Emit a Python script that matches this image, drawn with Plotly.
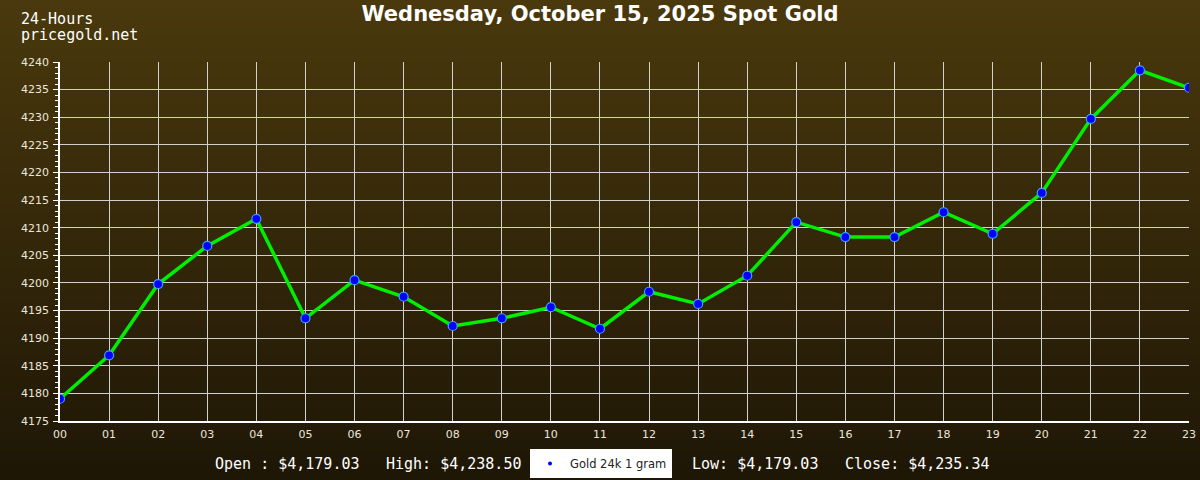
import base64
import struct
import zlib
import plotly.graph_objects as go

hours = ["00","01","02","03","04","05","06","07","08","09","10","11",
         "12","13","14","15","16","17","18","19","20","21","22","23"]
prices = [4179.03, 4186.9, 4199.8, 4206.7, 4211.6, 4193.6, 4200.5, 4197.5,
          4192.2, 4193.6, 4195.6, 4191.7, 4198.4, 4196.2, 4201.3, 4211.0,
          4208.3, 4208.3, 4212.8, 4208.9, 4216.3, 4229.7, 4238.5, 4235.34]
series_name = "Gold 24k 1 gram"
title_text = "Wednesday, October 15, 2025 Spot Gold"
stats = [("Open : $4,179.03", 213), ("High: $4,238.50", 384),
         ("Low: $4,179.03", 690), ("Close: $4,235.34", 843)]

W, H = 1200, 480
ML, MR, MT, MB = 60, 11, 62, 59
PW, PH = W - ML - MR, H - MT - MB

def px_x(px):
    return (px - ML) / PW

def px_y(py):
    return (H - MB - py) / PH

# vertical gradient background as a tiny PNG (1 x H)
top = (74, 57, 13)
bot = (30, 22, 6)
raw = b""
for i in range(H):
    t = i / (H - 1)
    c = bytes(round(top[k] + (bot[k] - top[k]) * t) for k in range(3))
    raw += b"\x00" + c
def _chunk(tag, data):
    return struct.pack(">I", len(data)) + tag + data + struct.pack(">I", zlib.crc32(tag + data) & 0xffffffff)
png = (b"\x89PNG\r\n\x1a\n" + _chunk(b"IHDR", struct.pack(">IIBBBBB", 1, H, 8, 2, 0, 0, 0))
       + _chunk(b"IDAT", zlib.compress(raw)) + _chunk(b"IEND", b""))
bg_uri = "data:image/png;base64," + base64.b64encode(png).decode()

x = list(range(len(hours)))

fig = go.Figure()
fig.add_trace(go.Scatter(
    x=x, y=prices, mode="lines+markers", showlegend=False,
    line=dict(color="#00ee00", width=3.5),
    marker=dict(color="#0000ff", size=9, line=dict(color="#3fa0ff", width=1.2)),
))
fig.add_trace(go.Scatter(
    x=[None], y=[None], mode="markers", name=series_name,
    marker=dict(color="#0000ff", size=4),
))

mono = "DejaVu Sans Mono"
annotations = [
    dict(text="24-Hours", x=px_x(19), y=px_y(19), xref="paper", yref="paper",
         xanchor="left", yanchor="middle", showarrow=False,
         font=dict(family=mono, size=15, color="white")),
    dict(text="pricegold.net", x=px_x(19), y=px_y(35), xref="paper", yref="paper",
         xanchor="left", yanchor="middle", showarrow=False,
         font=dict(family=mono, size=15, color="white")),
]
for label, xp in stats:
    annotations.append(dict(text=label, x=px_x(xp), y=px_y(464), xref="paper",
                            yref="paper", xanchor="left", yanchor="middle",
                            showarrow=False,
                            font=dict(family=mono, size=15, color="white")))

fig.update_layout(
    template="none",
    width=W, height=H,
    margin=dict(l=ML, r=MR, t=MT, b=MB, pad=0, autoexpand=False),
    paper_bgcolor="#33270a", plot_bgcolor="rgba(0,0,0,0)",
    images=[dict(source=bg_uri, xref="paper", yref="paper",
                 x=px_x(0), y=px_y(0), sizex=W / PW, sizey=H / PH,
                 xanchor="left", yanchor="top", sizing="stretch", layer="below")],
    annotations=annotations,
    title=dict(text="<b>" + title_text + "</b>", x=0.5, xref="container", xanchor="center",
               y=1 - 14 / H, yref="container", yanchor="middle",
               font=dict(family="DejaVu Sans", size=21, color="white")),
    legend=dict(orientation="h", x=px_x(601), y=px_y(449), xanchor="center",
                yanchor="top", bgcolor="white", font=dict(family="DejaVu Sans",
                size=11.5, color="#222222"), itemwidth=30,
                borderwidth=0, tracegroupgap=0),
    xaxis=dict(range=[0, 23], tickvals=x, ticktext=hours, showgrid=True,
               gridcolor="#d0d0d0", gridwidth=1, showline=True, linecolor="#ffffff",
               linewidth=1.5, ticks="", zeroline=False, ticklabelstandoff=2,
               tickfont=dict(family="DejaVu Sans", size=11, color="#ece6da")),
    yaxis=dict(range=[4175, 4240], dtick=5, tick0=4175, showgrid=True,
               gridcolor="#d0d0d0", gridwidth=1, showline=True, linecolor="#ffffff",
               linewidth=1.5, ticks="outside", ticklen=5, tickcolor="#ffffff",
               minor=dict(dtick=1, ticks="outside", ticklen=3, tickcolor="#ffffff",
                          showgrid=False),
               zeroline=False, ticklabelstandoff=2,
               tickfont=dict(family="DejaVu Sans", size=11, color="#ece6da")),
)

fig.write_html("out.html", config={"displayModeBar": False},
               post_script="document.body.style.margin='0';document.body.style.padding='0';")
